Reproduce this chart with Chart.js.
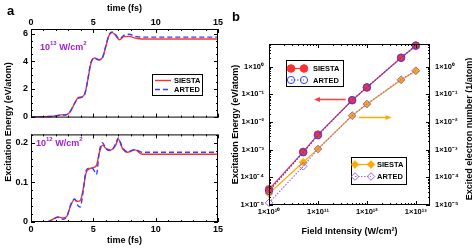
<!DOCTYPE html>
<html>
<head>
<meta charset="utf-8">
<script src="https://cdn.jsdelivr.net/npm/chart.js@4.4.1/dist/chart.umd.min.js"></script>
<style>
  body { margin: 0; width: 472px; height: 248px; overflow: hidden; background: #fff; position: relative;
         font-family: "Liberation Sans", Arial, sans-serif; }
  canvas { position: absolute; }
  .txt { position: absolute; font-weight: bold; line-height: 1; white-space: nowrap; }
  .note { color: #a020d0; font-size: 9px; }
  .note sup { font-size: 6px; position: relative; top: -1px; }
  .ytitle { text-align: center; font-size: 9px; line-height: 10px; transform: rotate(-90deg); }
</style>
</head>
<body>
<canvas id="a13" width="240" height="126" style="left:0;top:0"></canvas>
<canvas id="a12" width="240" height="122" style="left:0;top:126px"></canvas>
<canvas id="b" width="246" height="248" style="left:226px;top:0"></canvas>

<div class="txt" style="left:7px;top:4px;font-size:13px">a</div>
<div class="txt" style="left:232px;top:10px;font-size:13px">b</div>
<div class="txt ytitle" style="width:160px;left:-72px;top:117px">Excitation Energy (eV/atom)</div>
<div class="txt ytitle" style="width:180px;left:379px;top:124px">Excited electron number (1/atom)</div>
<div class="txt note" style="left:40px;top:41px">10<sup>13</sup> W/cm<sup>2</sup></div>
<div class="txt note" style="left:36px;top:137px">10<sup>12</sup> W/cm<sup>2</sup></div>

<script>
// panel a, 10^13 W/cm2
const t13 = [0, 1.0, 1.5, 2.0, 2.4, 2.8, 3.1, 3.5, 3.75, 4.0, 4.3, 4.55, 4.8, 5.1, 5.45, 5.75, 6.0, 6.25, 6.5, 6.75, 7.1, 7.45, 7.85, 8.4, 8.9, 10, 12, 15];
const siesta13 = [0, 0, 0.01, 0.07, 0.13, 0.14, 0.3, 0.95, 1.35, 1.42, 1.62, 2.62, 3.84, 4.24, 4.11, 4.29, 5.07, 5.84, 6.07, 5.91, 5.56, 5.78, 5.8, 5.67, 5.61, 5.61, 5.61, 5.61];
const arted13 = [0, 0, 0.01, 0.06, 0.12, 0.14, 0.32, 0.98, 1.33, 1.38, 1.6, 2.65, 3.9, 4.22, 4.1, 4.3, 5.1, 5.9, 6.12, 5.95, 5.62, 5.88, 5.95, 5.8, 5.75, 5.75, 5.75, 5.75];

// panel a, 10^12 W/cm2
const t12 = [0, 1.2, 1.65, 2.15, 2.55, 2.85, 3.2, 3.5, 3.75, 3.95, 4.15, 4.42, 4.68, 4.95, 5.25, 5.48, 5.74, 6.0, 6.4, 6.8, 7.0, 7.33, 7.72, 8.35, 8.9, 10, 12, 15];
const siesta12 = [0, 0, 0.005, 0.013, 0.010, 0.013, 0.043, 0.057, 0.052, 0.054, 0.077, 0.124, 0.134, 0.137, 0.143, 0.174, 0.194, 0.186, 0.182, 0.194, 0.209, 0.186, 0.176, 0.182, 0.171, 0.171, 0.171, 0.171];
const arted12 = [0, 0, 0.004, 0.012, 0.007, 0.012, 0.045, 0.058, 0.042, 0.038, 0.07, 0.13, 0.136, 0.135, 0.12, 0.178, 0.2, 0.185, 0.18, 0.198, 0.212, 0.188, 0.177, 0.183, 0.176, 0.176, 0.176, 0.176];

const timeTicks = [0, 5, 10, 15];
const ticks13 = [0, 2, 4, 6];
const ticks12 = [0, 0.1, 0.2];

// panel b
const fields = [1e10, 5e10, 1e11, 5e11, 1e12, 5e12, 1e13];
const siestaE = [3.7e-5, 8.3e-4, 3.5e-3, 0.061, 0.176, 2.1, 5.7];
const artedE = [3.2e-5, 8.0e-4, 3.3e-3, 0.062, 0.18, 2.1, 5.85];
const siestaN = [2.6e-5, 3.5e-4, 1.07e-3, 0.017, 0.044, 0.33, 0.7];
const artedN = [1.2e-5, 2.5e-4, 1.05e-3, 0.017, 0.045, 0.34, 0.72];
const fieldTicks = [1e10, 1e11, 1e12, 1e13];
const logTicks = [1e-5, 1e-4, 1e-3, 1e-2, 1e-1, 1];

const RED = '#ff3030', BLUE = '#3040ff', ORANGE = '#ffaa00', PURPLE = '#9a6ad8';

Chart.defaults.font.family = '"Liberation Sans", Arial, sans-serif';
Chart.defaults.font.weight = 'bold';
Chart.defaults.color = '#000';

const pts = (xs, ys) => xs.map((x, i) => ({ x, y: ys[i] }));
const setTicks = list => s => { s.ticks = list.map(v => ({ value: v })); };
const range = (a, b, step) => { const out = []; for (let v = a; v <= b + 1e-9; v += step) out.push(+v.toFixed(4)); return out; };
const logMinor = (lo, hi, max) => { const out = []; for (let n = lo; n <= hi; n++) for (let k = 2; k <= 9; k++) if (k * 10 ** n <= max) out.push(k * 10 ** n); return out; };
const SUP = { '-': '⁻', '0': '⁰', '1': '¹', '2': '²', '3': '³', '4': '⁴', '5': '⁵', '6': '⁶', '7': '⁷', '8': '⁸', '9': '⁹' };
const powLabel = v => '1×10' + String(Math.round(Math.log10(v))).split('').map(c => SUP[c]).join('');

// box + inward tick marks on all four sides
const frame = {
  id: 'frame',
  afterDatasetsDraw(chart, args, o) {
    const { ctx, chartArea: a } = chart;
    const sx = chart.scales.x, sy = chart.scales.y;
    ctx.save();
    ctx.strokeStyle = '#000';
    ctx.lineWidth = 1;
    ctx.beginPath();
    const mark = (vals, len, horiz) => vals.forEach(v => {
      if (horiz) {
        const p = Math.round(sx.getPixelForValue(v)) + 0.5;
        ctx.moveTo(p, a.bottom); ctx.lineTo(p, a.bottom - len);
        ctx.moveTo(p, a.top); ctx.lineTo(p, a.top + len);
      } else {
        const p = Math.round(sy.getPixelForValue(v)) + 0.5;
        ctx.moveTo(a.left, p); ctx.lineTo(a.left + len, p);
        ctx.moveTo(a.right, p); ctx.lineTo(a.right - len, p);
      }
    });
    mark(o.xMajor, 4, true); mark(o.xMinor, 2, true);
    mark(o.yMajor, 4, false); mark(o.yMinor, 2, false);
    ctx.stroke();
    ctx.strokeRect(a.left + 0.5, a.top + 0.5, a.width - 1, a.height - 1);
    ctx.restore();
  }
};

// legend boxes drawn inside the plot, reading styles from the datasets
const boxLegend = {
  id: 'boxLegend',
  afterDraw(chart, args, o) {
    const { ctx, chartArea: a } = chart;
    (o.boxes || []).forEach(b => {
      const x = a.left + b.x, y = a.top + b.y;
      ctx.save();
      ctx.fillStyle = '#fff';
      ctx.fillRect(x, y, b.w, b.h);
      ctx.strokeStyle = '#000';
      ctx.lineWidth = 1;
      ctx.strokeRect(x + 0.5, y + 0.5, b.w, b.h);
      b.rows.forEach((idx, i) => {
        const ds = chart.data.datasets[idx];
        const cy = y + b.rowY[i];
        ctx.strokeStyle = ds.borderColor;
        ctx.lineWidth = ds.borderWidth;
        ctx.setLineDash(ds.borderDash || []);
        ctx.beginPath();
        ctx.moveTo(x + b.lineX[0], cy);
        ctx.lineTo(x + b.lineX[1], cy);
        ctx.stroke();
        ctx.setLineDash([]);
        if (ds.pointRadius > 0) {
          b.lineX.forEach(px => {
            ctx.fillStyle = ds.pointBackgroundColor;
            ctx.strokeStyle = ds.pointBorderColor;
            ctx.lineWidth = ds.pointBorderWidth;
            Chart.helpers.drawPoint(ctx, { pointStyle: ds.pointStyle, radius: ds.pointRadius, borderWidth: ds.pointBorderWidth, rotation: 0 }, x + px, cy);
          });
        }
        ctx.fillStyle = '#000';
        ctx.font = 'bold 7.5px "Liberation Sans", Arial, sans-serif';
        ctx.textBaseline = 'middle';
        ctx.fillText(ds.label, x + b.textX, cy + 0.5);
      });
      ctx.restore();
    });
  }
};

// the two arrows pointing to the axes in panel b
const arrows = {
  id: 'arrows',
  afterDatasetsDraw(chart, args, o) {
    const { ctx } = chart;
    (o.list || []).forEach(ar => {
      const sx = chart.scales.x, sy = chart.scales.y;
      const x1 = sx.getPixelForValue(ar.from), x2 = sx.getPixelForValue(ar.to);
      const y = Math.round(sy.getPixelForValue(ar.y)) + 0.5;
      const dir = Math.sign(x2 - x1);
      ctx.save();
      ctx.strokeStyle = ar.color;
      ctx.fillStyle = ar.color;
      ctx.lineWidth = 1.5;
      ctx.beginPath();
      ctx.moveTo(x1, y);
      ctx.lineTo(x2 - dir * 4, y);
      ctx.stroke();
      ctx.beginPath();
      ctx.moveTo(x2, y);
      ctx.lineTo(x2 - dir * 6, y - 2.5);
      ctx.lineTo(x2 - dir * 6, y + 2.5);
      ctx.closePath();
      ctx.fill();
      ctx.restore();
    });
  }
};

const tickFont = { size: 9, weight: 'bold' };
const titleFont = { size: 9, weight: 'bold' };

const timeChart = (id, t, sie, art, yMin, yMax, yTicks, yMinor, top, legend) => new Chart(document.getElementById(id), {
  type: 'line',
  data: {
    datasets: [
      { label: 'ARTED', data: pts(t, art), borderColor: BLUE, borderDash: [5, 3], borderWidth: 1.4, pointRadius: 0, cubicInterpolationMode: 'monotone', order: 0 },
      { label: 'SIESTA', data: pts(t, sie), borderColor: RED, borderWidth: 1.4, pointRadius: 0, cubicInterpolationMode: 'monotone', order: 1 },
    ],
  },
  options: {
    responsive: false,
    animation: false,
    devicePixelRatio: 1,
    layout: { padding: top ? { left: 0, top: 0, right: 22, bottom: 1 } : { left: 0, top: 1, right: 22, bottom: 0 } },
    plugins: {
      legend: { display: false },
      tooltip: { enabled: false },
      frame: { xMajor: timeTicks, xMinor: range(1, 14, 1).filter(v => v % 5), yMajor: yTicks, yMinor: yMinor },
      boxLegend: { boxes: legend ? [legend] : [] },
    },
    scales: {
      x: {
        type: 'linear', position: top ? 'top' : 'bottom', min: 0, max: 15,
        afterBuildTicks: setTicks(timeTicks),
        afterFit: s => { s.height = top ? 29 : 26; },
        grid: { display: false, drawTicks: false }, border: { display: false },
        ticks: { padding: top ? 1 : 2, font: tickFont, autoSkip: false, maxRotation: 0 },
        title: { display: true, text: 'time (fs)', font: titleFont, padding: top ? { top: 3, bottom: 0 } : { top: 0, bottom: 2 } },
      },
      y: {
        type: 'linear', min: yMin, max: yMax,
        afterBuildTicks: setTicks(yTicks),
        afterFit: s => { s.width = 31; },
        grid: { display: false, drawTicks: false }, border: { display: false },
        ticks: { padding: 3, font: tickFont, callback: v => String(v) },
      },
    },
  },
  plugins: [frame, boxLegend],
});

timeChart('a13', t13, siesta13, arted13, -1 / 15, 95 / 15, ticks13, range(0.5, 6, 0.5).filter(v => v % 2), true,
  { x: 121, y: 45, w: 50, h: 21, rows: [1, 0], rowY: [6.5, 15.5], lineX: [3, 19], textX: 22 });
timeChart('a12', t12, siesta12, arted12, 0, 95 / 430, ticks12, range(0.02, 0.22, 0.02).filter(v => Math.abs(v - 0.1) > 1e-6 && Math.abs(v - 0.2) > 1e-6), false, null);

const logMaxY = 6.6, logMaxX = 1.95e13;

new Chart(document.getElementById('b'), {
  type: 'line',
  data: {
    datasets: [
      { label: 'ARTED', data: pts(fields, artedE), yAxisID: 'y', borderColor: BLUE, borderDash: [1.5, 1.5], borderWidth: 1.2,
        pointStyle: 'circle', pointRadius: 3.6, pointBorderWidth: 1, pointBorderColor: BLUE, pointBackgroundColor: 'rgba(0,0,0,0)', order: 0, clip: false },
      { label: 'SIESTA', data: pts(fields, siestaE), yAxisID: 'y', borderColor: RED, borderWidth: 1.2,
        pointStyle: 'circle', pointRadius: 3.8, pointBorderWidth: 1, pointBorderColor: RED, pointBackgroundColor: RED, order: 1, clip: false },
      { label: 'ARTED', data: pts(fields, artedN), yAxisID: 'y2', borderColor: PURPLE, borderDash: [1.5, 1.5], borderWidth: 1.2,
        pointStyle: 'rectRot', pointRadius: 3.8, pointBorderWidth: 1, pointBorderColor: PURPLE, pointBackgroundColor: 'rgba(0,0,0,0)', order: 2, clip: false },
      { label: 'SIESTA', data: pts(fields, siestaN), yAxisID: 'y2', borderColor: ORANGE, borderWidth: 1.2,
        pointStyle: 'rectRot', pointRadius: 3.8, pointBorderWidth: 1, pointBorderColor: ORANGE, pointBackgroundColor: ORANGE, order: 3, clip: false },
    ],
  },
  options: {
    responsive: false,
    animation: false,
    devicePixelRatio: 1,
    layout: { padding: { left: 0, top: 44, right: 0, bottom: 0 } },
    plugins: {
      legend: { display: false },
      tooltip: { enabled: false },
      frame: { xMajor: fieldTicks, xMinor: logMinor(10, 13, logMaxX), yMajor: logTicks, yMinor: logMinor(-5, 0, logMaxY) },
      boxLegend: {
        boxes: [
          { x: 17, y: 16, w: 57, h: 26, rows: [1, 0], rowY: [8.5, 20], lineX: [5, 18], textX: 27 },
          { x: 82, y: 113, w: 55, h: 27, rows: [3, 2], rowY: [7.5, 19.5], lineX: [4, 20], textX: 26 },
        ],
      },
      arrows: {
        list: [
          { from: 3.7e11, to: 8.3e10, y: 0.07, color: '#ff3b3b' },
          { from: 6.9e11, to: 3.2e12, y: 0.0155, color: ORANGE },
        ],
      },
    },
    scales: {
      x: {
        type: 'logarithmic', position: 'bottom', min: 1e10, max: logMaxX,
        afterBuildTicks: setTicks(fieldTicks),
        afterFit: s => { s.height = 43; },
        grid: { display: false, drawTicks: false }, border: { display: false },
        ticks: { padding: 2.5, font: { size: 7.5, weight: 'bold' }, autoSkip: false, maxRotation: 0, callback: powLabel },
        title: { display: true, text: 'Field Intensity (W/cm²)', font: titleFont, padding: { top: 0, bottom: 11 } },
      },
      y: {
        type: 'logarithmic', position: 'left', min: 1e-5, max: logMaxY,
        afterBuildTicks: setTicks(logTicks),
        afterFit: s => { s.width = 43; },
        grid: { display: false, drawTicks: false }, border: { display: false },
        ticks: { padding: 5, font: { size: 7.5, weight: 'bold' }, callback: powLabel },
        title: { display: true, text: 'Excitation Energy (eV/atom)', font: titleFont, padding: { top: 4.6, bottom: 0 } },
      },
      y2: {
        type: 'logarithmic', position: 'right', min: 1e-5, max: logMaxY,
        afterBuildTicks: setTicks(logTicks),
        afterFit: s => { s.width = 42; },
        grid: { display: false, drawTicks: false }, border: { display: false },
        ticks: { padding: 5, font: { size: 7.5, weight: 'bold' }, callback: powLabel },
      },
    },
  },
  plugins: [frame, boxLegend, arrows],
});
</script>
</body>
</html>
